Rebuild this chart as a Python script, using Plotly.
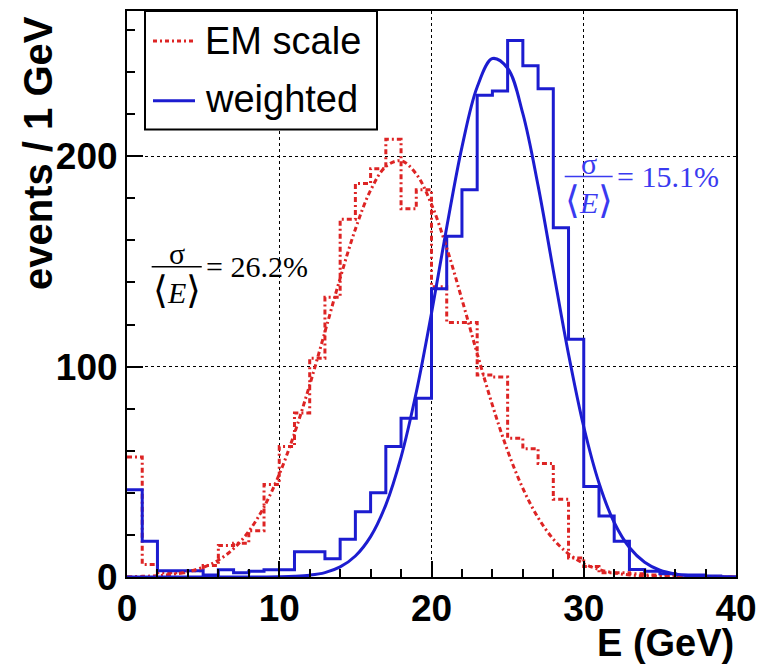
import numpy as np
import plotly.graph_objects as go

# ---------------- data ----------------
bin_edges = list(range(0, 41))          # 1 GeV bins, 0..40 GeV

em_scale_counts = [57, 6, 2, 2, 3, 5.5, 15, 16, 22, 44,
                   62, 78, 104, 133, 170, 187, 194, 208, 175, 184,
                   138, 121, 121, 96, 95, 66, 61, 54, 37, 9,
                   5, 2, 2, 1.5, 1, 1, 0.5, 0, 0, 0]

weighted_counts = [41.5, 17, 3, 3, 3, 1, 3.5, 2, 2.7, 3.5,
                   3.5, 12, 12, 8.7, 18, 31, 40, 62, 75.5, 85,
                   137, 162, 184, 229, 231, 255, 243, 232, 166, 113,
                   43, 29, 17, 3.6, 2.7, 1.6, 1, 1, 0.5, 0]

fit_x = list(range(0, 41))
em_scale_fit = [0.13, 0.30, 0.63, 1.3, 2.5, 4.6, 8.0, 13.5, 21.7, 33.3,
                48.8, 68.3, 91.3, 116.5, 142.0, 165.3, 183.8, 195.1, 197.8, 191.5,
                177.1, 156.4, 131.9, 106.2, 81.7, 60.0, 42.1, 28.2, 18.0, 11.0,
                6.4, 3.6, 1.9, 0.97, 0.47, 0.22, 0.1, 0.04, 0.0, 0.0, 0.0]
weighted_fit = [0, 0, 0, 0, 0, 0, 0, 0, 0.01, 0.04,
                0.12, 0.34, 0.88, 2.1, 4.8, 10.0, 19.2, 34.3, 57.0, 87.8,
                125.4, 166.2, 204.3, 232.9, 246.4, 241.8, 220.2, 186.0, 145.7, 105.9,
                71.4, 44.7, 25.9, 14.0, 7.0, 3.2, 1.4, 0.55, 0.2, 0.07, 0.02]

em_resolution = "26.2%"
weighted_resolution = "15.1%"

RED = "#dd2424"
BLUE = "#1c1cd0"
TXT_BLUE = "#3a3af0"
RED_DASH = "5px,3px,2px,3px"

fig = go.Figure()

# histograms drawn as steps
fig.add_trace(go.Scatter(x=bin_edges, y=em_scale_counts + [em_scale_counts[-1]],
                         mode="lines", line=dict(shape="hv", color=RED, width=3, dash=RED_DASH),
                         showlegend=False, hoverinfo="skip"))
fig.add_trace(go.Scatter(x=bin_edges, y=weighted_counts + [weighted_counts[-1]],
                         mode="lines", line=dict(shape="hv", color=BLUE, width=3),
                         showlegend=False, hoverinfo="skip"))
# fitted curves
fig.add_trace(go.Scatter(x=fit_x, y=em_scale_fit, mode="lines",
                         line=dict(shape="spline", color=RED, width=3, dash=RED_DASH),
                         showlegend=False, hoverinfo="skip"))
fig.add_trace(go.Scatter(x=fit_x, y=weighted_fit, mode="lines",
                         line=dict(shape="spline", color=BLUE, width=3),
                         showlegend=False, hoverinfo="skip"))

L, R, T, B = 127, 34, 9, 90
W, H = 770, 667
pw, ph = W - L - R, H - T - B


def px(xp):
    return (xp - L) / pw


def py(yp):
    return (H - B - yp) / ph


shapes = []
ann = []

# legend (manual, ROOT style)
shapes.append(dict(type="rect", xref="paper", yref="paper", x0=px(145), x1=px(377),
                   y0=py(128), y1=py(9), line=dict(color="black", width=2), fillcolor="white",
                   layer="above"))
shapes.append(dict(type="line", xref="paper", yref="paper", x0=px(153), x1=px(195),
                   y0=py(39), y1=py(39), line=dict(color=RED, width=3, dash="4px,3px,2px,3px"),
                   layer="above"))
shapes.append(dict(type="line", xref="paper", yref="paper", x0=px(153), x1=px(195),
                   y0=py(99), y1=py(99), line=dict(color=BLUE, width=3), layer="above"))
leg_font = dict(family="Liberation Sans, Arial, sans-serif", size=38, color="black")
ann.append(dict(xref="paper", yref="paper", x=px(203), y=py(39), text="EM scale",
                showarrow=False, xanchor="left", yanchor="middle", font=leg_font))
ann.append(dict(xref="paper", yref="paper", x=px(203), y=py(97), text="weighted",
                showarrow=False, xanchor="left", yanchor="middle", font=leg_font))


# resolution labels sigma / <E>
def frac(xc, y_bar, x0, x1, color, value):
    f = dict(family="Liberation Serif, Times New Roman, serif", size=30, color=color)
    ann.append(dict(xref="x", yref="y", x=xc, y=y_bar - 2.5, text="σ", showarrow=False,
                    xanchor="center", yanchor="bottom", font=f))
    ann.append(dict(xref="x", yref="y", x=xc, y=y_bar - 0.3,
                    text="<span style='font-size:38px'>⟨</span><i>E</i><span style='font-size:38px'>⟩</span>",
                    showarrow=False, xanchor="center", yanchor="top", font=f))
    shapes.append(dict(type="line", xref="x", yref="y", x0=x0, x1=x1, y0=y_bar, y1=y_bar,
                       line=dict(color=color, width=1.5)))
    ann.append(dict(xref="x", yref="y", x=x1 + 0.15, y=y_bar, text="= " + value, showarrow=False,
                    xanchor="left", yanchor="middle", font=f))


frac(3.3, 147.4, 1.62, 4.91, "black", em_resolution)
frac(30.35, 190.3, 28.75, 31.9, TXT_BLUE, weighted_resolution)

# axis titles (ROOT style: aligned to axis ends)
ann.append(dict(xref="paper", yref="paper", x=1.0, y=py(643), text="E (GeV)", showarrow=False,
                xanchor="right", yanchor="middle",
                font=dict(family="Liberation Sans, Arial, sans-serif", size=38, color="black",
                          weight="bold")))
ann.append(dict(xref="paper", yref="paper", x=px(38), y=py(12), text="events / 1 GeV",
                showarrow=False, textangle=-90, xanchor="center", yanchor="top",
                font=dict(family="Liberation Sans, Arial, sans-serif", size=40, color="black",
                          weight="bold")))

tick_font = dict(family="Liberation Sans, Arial, sans-serif", size=37, color="black", weight="bold")

fig.update_layout(
    width=W, height=H,
    margin=dict(l=L, r=R, t=T, b=B),
    paper_bgcolor="white", plot_bgcolor="white",
    shapes=shapes, annotations=ann,
    showlegend=False,
    xaxis=dict(range=[0, 40], tickvals=[0, 10, 20, 30, 40], ticks="inside", ticklen=16,
               tickwidth=1.5, tickcolor="black", showline=True, linecolor="black", linewidth=2,
               mirror=True, showgrid=True, gridcolor="black", griddash="dot", gridwidth=1,
               zeroline=False, tickfont=tick_font, ticklabelstandoff=-2,
               minor=dict(dtick=2, ticks="inside", ticklen=8, tickcolor="black", tickwidth=1.5,
                          showgrid=False)),
    yaxis=dict(range=[0, 269], tickvals=[0, 100, 200], ticks="inside", ticklen=16,
               tickwidth=1.5, tickcolor="black", showline=True, linecolor="black", linewidth=2,
               mirror=True, showgrid=True, gridcolor="black", griddash="dot", gridwidth=1,
               zeroline=False, tickfont=tick_font, ticklabelstandoff=0,
               minor=dict(dtick=20, ticks="inside", ticklen=8, tickcolor="black", tickwidth=1.5,
                          showgrid=False)),
)

fig.write_html("out.html")
